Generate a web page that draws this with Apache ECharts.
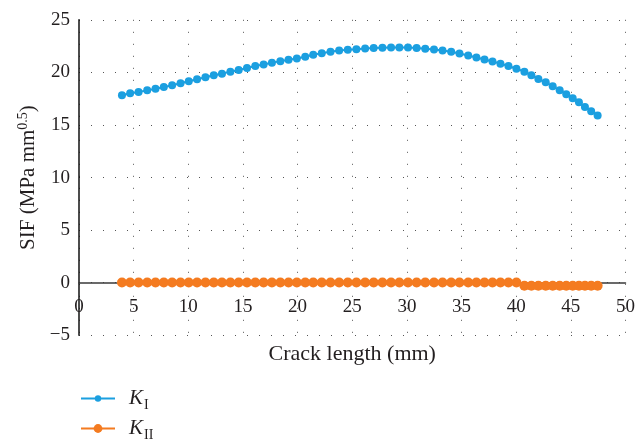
<!DOCTYPE html>
<html>
<head>
<meta charset="utf-8">
<script src="https://cdn.jsdelivr.net/npm/echarts@6/dist/echarts.min.js"></script>
<style>
  html, body { margin: 0; padding: 0; background: #fff; }
  #chart { width: 638px; height: 443px; }
</style>
</head>
<body>
<div id="chart"></div>
<script>
// Crack length (mm) at each computed crack-front step
const crackLength = [
  3.93, 4.68, 5.45, 6.24, 7.00, 7.76, 8.52, 9.29, 10.04, 10.80,
  11.57, 12.33, 13.08, 13.85, 14.61, 15.37, 16.13, 16.89, 17.65, 18.42,
  19.17, 19.93, 20.70, 21.43, 22.21, 23.01, 23.80, 24.59, 25.38, 26.18,
  26.96, 27.76, 28.55, 29.31, 30.10, 30.89, 31.68, 32.48, 33.26, 34.05,
  34.81, 35.61, 36.36, 37.10, 37.83, 38.56, 39.29, 40.02, 40.75, 41.39,
  42.03, 42.70, 43.34, 43.98, 44.58, 45.17, 45.74, 46.29, 46.86, 47.45
];

// Mode I stress intensity factor (MPa mm^0.5)
const kI = [
  17.82, 18.01, 18.13, 18.29, 18.45, 18.60, 18.77, 18.96, 19.15, 19.34,
  19.53, 19.72, 19.88, 20.07, 20.22, 20.41, 20.60, 20.76, 20.92, 21.07,
  21.21, 21.33, 21.49, 21.67, 21.83, 21.97, 22.09, 22.16, 22.21, 22.28,
  22.31, 22.35, 22.37, 22.37, 22.37, 22.31, 22.25, 22.18, 22.09, 21.97,
  21.80, 21.61, 21.42, 21.23, 21.04, 20.83, 20.60, 20.35, 20.07, 19.72,
  19.37, 19.05, 18.67, 18.29, 17.91, 17.53, 17.15, 16.70, 16.30, 15.89
];

// Mode II stress intensity factor (MPa mm^0.5)
const kII = [
  0.02, 0.02, 0.02, 0.02, 0.02, 0.02, 0.02, 0.02, 0.02, 0.02,
  0.02, 0.02, 0.02, 0.02, 0.02, 0.02, 0.02, 0.02, 0.02, 0.02,
  0.02, 0.02, 0.02, 0.02, 0.02, 0.02, 0.02, 0.02, 0.02, 0.02,
  0.02, 0.02, 0.02, 0.02, 0.02, 0.02, 0.02, 0.02, 0.02, 0.02,
  0.02, 0.02, 0.02, 0.02, 0.02, 0.02, 0.02, 0.02, -0.28, -0.28,
  -0.28, -0.28, -0.28, -0.28, -0.28, -0.28, -0.28, -0.28, -0.28, -0.28
];

const seriesNames = ['K_I', 'K_II'];
const legendLabels = { K_I: '{k|K}{s|I}', K_II: '{k|K}{s|II}' };

const serif = '"Liberation Serif", "DejaVu Serif", serif';
const textColor = '#231f20';
const blue = '#1b9fe0';
const orange = '#f47b20';

const yMin = -5, yMax = 25;
const gridTop = 19.8, gridBottom = 107.7, chartHeight = 443;

// The x axis (line, tick labels and title) sits on the y = 0 line
const plotHeight = chartHeight - gridTop - gridBottom;
const zeroLift = -plotHeight * (0 - yMin) / (yMax - yMin);

const pairs = (xs, ys) => xs.map((x, i) => [x, ys[i]]);

const gridLine = { show: true, lineStyle: { color: '#555', width: 1, type: [1, 11] } };

const legendRich = {
  k: { fontFamily: serif, fontStyle: 'italic', fontSize: 21, lineHeight: 28, color: textColor, padding: [0, 1, 0, 9] },
  s: { fontFamily: serif, fontSize: 14, lineHeight: 14, verticalAlign: 'bottom', color: textColor }
};

const chart = echarts.init(document.getElementById('chart'), null, { renderer: 'canvas' });

chart.setOption({
  animation: false,
  backgroundColor: '#fff',
  grid: { left: 79, right: 11.3, top: gridTop, bottom: gridBottom, containLabel: false },
  xAxis: {
    type: 'value',
    min: 0, max: 50, interval: 5,
    offset: zeroLift,
    name: 'Crack length (mm)',
    nameLocation: 'middle',
    nameGap: 61,
    nameTextStyle: { fontFamily: serif, fontSize: 22, color: textColor },
    axisLine: { show: true, onZero: false, lineStyle: { color: '#3a3a3a', width: 1.5 } },
    axisTick: { show: false },
    axisLabel: { margin: 15, fontFamily: serif, fontSize: 19, color: textColor },
    splitLine: gridLine
  },
  yAxis: {
    type: 'value',
    min: yMin, max: yMax, interval: 5,
    name: '{m|SIF (MPa mm}{p|0.5}{m|)}',
    nameLocation: 'middle',
    nameRotate: 90,
    nameGap: 38,
    nameTextStyle: {
      rich: {
        m: { fontFamily: serif, fontSize: 21, lineHeight: 24, color: textColor },
        p: { fontFamily: serif, fontSize: 14, lineHeight: 13, verticalAlign: 'top', color: textColor }
      }
    },
    axisLine: { show: true, onZero: false, lineStyle: { color: '#111', width: 1.5 } },
    axisTick: { show: false },
    axisLabel: {
      margin: 9, fontFamily: serif, fontSize: 19, color: textColor,
      formatter: v => (v < 0 ? '\u2212' + Math.abs(v) : String(v))
    },
    splitLine: gridLine
  },
  legend: [
    {
      data: [seriesNames[0]], orient: 'vertical', left: 80, top: 388, padding: 0,
      itemWidth: 34, itemHeight: 8, itemGap: 0,
      formatter: n => legendLabels[n],
      textStyle: { rich: legendRich }
    },
    {
      data: [seriesNames[1]], orient: 'vertical', left: 80, top: 418, padding: 0,
      itemWidth: 34, itemHeight: 11, itemGap: 0,
      formatter: n => legendLabels[n],
      textStyle: { rich: legendRich }
    }
  ],
  series: [
    {
      name: seriesNames[0], type: 'line',
      data: pairs(crackLength, kI),
      symbol: 'circle', symbolSize: 8,
      itemStyle: { color: blue },
      lineStyle: { color: blue, width: 2 },
      z: 3
    },
    {
      name: seriesNames[1], type: 'line',
      data: pairs(crackLength, kII),
      symbol: 'circle', symbolSize: 10,
      itemStyle: { color: orange },
      lineStyle: { color: orange, width: 2 },
      z: 3
    }
  ]
});
</script>
</body>
</html>
